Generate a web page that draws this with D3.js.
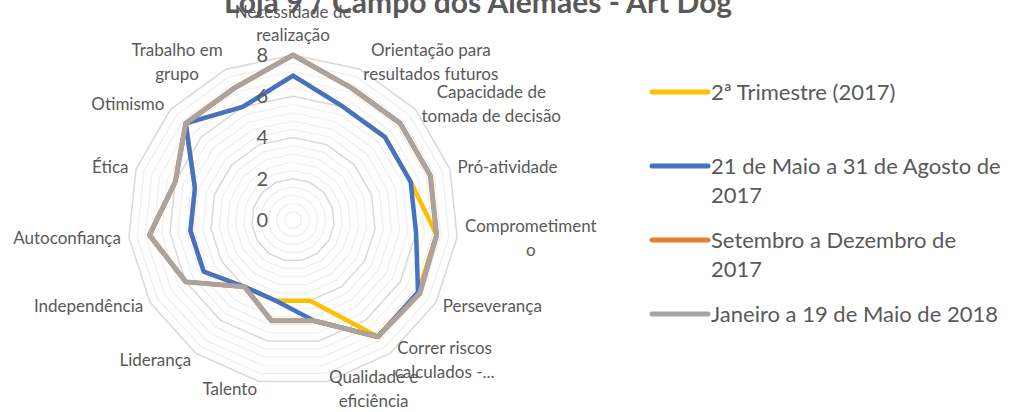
<!DOCTYPE html>
<html>
<head>
<meta charset="utf-8">
<script src="https://cdn.jsdelivr.net/npm/d3@7"></script>
<style>
body { margin: 0; background: #fff; }
text { font-family: Lato, "Open Sans", sans-serif; fill: #595959; }
</style>
</head>
<body>
<script>
var categories = ["Necessidade de\nrealização", "Orientação para\nresultados futuros", "Capacidade de\ntomada de decisão",
	"Pró-atividade", "Comprometiment\no", "Perseverança", "Correr riscos\ncalculados -...", "Qualidade e\neficiência",
	"Talento", "Liderança", "Independência", "Autoconfiança", "Ética", "Otimismo", "Trabalho em\ngrupo"];

var seriesNames = ["2ª Trimestre (2017)", "21 de Maio a 31 de Agosto de\n2017", "Setembro a Dezembro de\n2017", "Janeiro a 19 de Maio de 2018"];

var trimestre2017 = [7, 6, 6, 6, 7, 7, 7, 4, 4, 4, 5, 5, 5, 7, 6];
var maioAgosto2017 = [7, 6, 6, 6, 6, 7, 7, 5, 4, 4, 5, 5, 5, 7, 6];
var setDez2017 = [8, 7, 7, 7, 7, 7.1, 7, 5, 5, 4, 6, 7, 6, 7, 7];
var janMaio2018 = [8, 7, 7, 7, 7, 7.1, 7, 5, 5, 4, 6, 7, 6, 7, 7];

var tickValues = [0, 2, 4, 6, 8];
var colors = ["#FFC000", "#4472C4", "#ED7D31", "#A5A5A5"];
var seriesData = [trimestre2017, maioAgosto2017, setDez2017, janMaio2018];

var width = 1010, height = 412;
var cx = 293, cy = 220, radius = 165;

var svg = d3.select("body").append("svg")
	.attr("width", width)
	.attr("height", height);

var r = d3.scaleLinear().domain([0, 8]).range([0, radius]);
var angle = function(i) { return i * 2 * Math.PI / categories.length; };

var g = svg.append("g").attr("transform", "translate(" + cx + "," + cy + ")");

var radial = d3.lineRadial()
	.angle(function(d, i) { return angle(i); })
	.radius(function(d) { return r(d); })
	.curve(d3.curveLinearClosed);

// GRID RINGS (minor every 0.4, major every 2)
var ringValues = d3.range(1, 21).map(function(k) { return k * 0.4; });
var isMajor = function(v) { return Math.abs(v / 2 - Math.round(v / 2)) < 1e-6; };

g.selectAll(".minor")
	.data(ringValues.filter(function(v) { return !isMajor(v); }))
	.enter().append("path")
	.attr("class", "minor")
	.attr("d", function(v) { return radial(categories.map(function() { return v; })); })
	.attr("fill", "none")
	.attr("stroke", "#efefef")
	.attr("stroke-width", 1.2);

g.selectAll(".major")
	.data(ringValues.filter(isMajor))
	.enter().append("path")
	.attr("class", "major")
	.attr("d", function(v) { return radial(categories.map(function() { return v; })); })
	.attr("fill", "none")
	.attr("stroke", "#d9d9d9")
	.attr("stroke-width", 1.5);

// SERIES
g.selectAll(".series")
	.data(seriesData)
	.enter().append("path")
	.attr("class", "series")
	.attr("d", function(d) { return radial(d); })
	.attr("fill", "none")
	.attr("stroke", function(d, i) { return colors[i]; })
	.attr("stroke-width", function(d, i) { return i == 2 ? 5 : 4.5; })
	.attr("stroke-linejoin", "round");

// VALUE AXIS
var yAxisScale = d3.scaleLinear().domain([0, 8]).range([0, -radius]);
var ax = g.append("g")
	.call(d3.axisLeft(yAxisScale).tickValues(tickValues).tickSize(0).tickPadding(25));
ax.select(".domain").remove();
ax.selectAll("text").style("font-size", "20px");

// CATEGORY LABELS
var lineH = 23.5;
categories.forEach(function(name, i) {
	var a = angle(i), s = Math.sin(a), c = Math.cos(a);
	var px = (radius + 8) * s, py = -(radius + 8) * c;
	var lines = name.split("\n");
	var t = g.append("text").style("font-size", "17px").attr("text-anchor", "middle");
	var spans = lines.map(function(l) { return t.append("tspan").text(l); });
	var w = d3.max(spans, function(sp) { return sp.node().getComputedTextLength(); });
	var mx = px;
	if (s > 0.1) mx = px + w / 2;
	else if (s < -0.1) mx = px - w / 2;
	var top = (Math.abs(s) < 0.1 && c > 0) ? py - lines.length * lineH : py - lines.length * lineH / 2;
	spans.forEach(function(sp, k) {
		sp.attr("x", mx).attr("y", top + (k + 0.5) * lineH).attr("dy", "0.35em");
	});
});

// LEGEND
var legend = svg.append("g").attr("transform", "translate(652,92)");
seriesNames.forEach(function(name, i) {
	var row = legend.append("g").attr("transform", "translate(0," + (i * 74) + ")");
	row.append("line")
		.attr("x1", 0).attr("x2", 56)
		.attr("stroke", colors[i])
		.attr("stroke-width", 5)
		.attr("stroke-linecap", "round");
	var t = row.append("text").style("font-size", "22px");
	name.split("\n").forEach(function(l, k) {
		t.append("tspan").attr("x", 59).attr("y", k * 29).attr("dy", "0.35em").text(l);
	});
});

// TITLE
svg.append("text")
	.attr("x", 478)
	.attr("y", 13)
	.attr("text-anchor", "middle")
	.style("font-size", "30px")
	.style("font-weight", "bold")
	.text("Loja 9 / Campo dos Alemães - Art Dog");
</script>
</body>
</html>
